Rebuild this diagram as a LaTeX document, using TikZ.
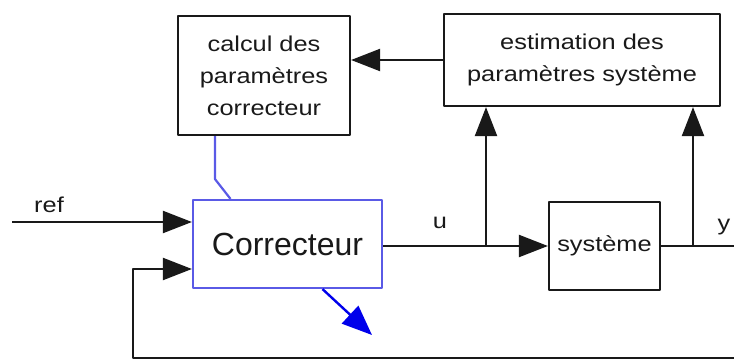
\documentclass[tikz,border=0pt]{standalone}
\usepackage{fontspec}
\setmainfont{Liberation Sans}
\newfontfamily\widefont[FakeStretch=1.18]{Liberation Sans}
\usetikzlibrary{arrows.meta}
\definecolor{boxblue}{RGB}{90,90,230}
\definecolor{arrowblue}{RGB}{0,0,235}
\definecolor{txtgray}{RGB}{25,25,25}
\begin{document}
\begin{tikzpicture}[x=1pt,y=-1pt,line join=round,>={Triangle[length=29pt,width=22pt]},
	bloc/.style={draw=black!90,line width=2.2pt,align=center,inner sep=0pt,text=txtgray,font=\widefont\fontsize{21.5}{32}\selectfont},
	fil/.style={draw=black!90,line width=2.2pt},
	lbl/.style={text=txtgray,inner sep=0pt,font=\widefont\fontsize{21.5}{25}\selectfont}]
	\useasboundingbox (0,0) rectangle (734,361);
	% blocs
	\node[bloc,minimum width=172pt,minimum height=119pt] (calc) at (264,75.5) {calcul des\\paramètres\\correcteur};
	\node[bloc,minimum width=276pt,minimum height=92pt] (estim) at (582,60) {estimation des\\paramètres système};
	\node[bloc,draw=boxblue,minimum width=189pt,minimum height=88pt,font=\fontsize{32}{36}\selectfont] (corr) at (287.5,244) {Correcteur};
	\node[bloc,minimum width=111pt,minimum height=88pt] (sys) at (604.5,246) {système};
	% points libres
	\coordinate (refin) at (12,222);
	\coordinate (fbin) at ([yshift=-25pt]corr.west);
	\coordinate (ju) at (486,246);
	\coordinate (jy) at (693,246);
	\coordinate (yout) at (734,246);
	\coordinate (fbr) at (734,358);
	\coordinate (fbl) at (133,358);
	\coordinate (adapt) at (372,335);
	% liaisons
	\draw[fil,->] (estim.west) -- (calc.east |- estim.west);
	\draw[fil,->] (refin) -- ([yshift=22pt]corr.west);
	\draw[fil,->] (fbr) -- (fbl) -- (fbl |- fbin) -- (fbin);
	\draw[fil,->] (corr.east |- sys.west) -- (sys.west);
	\draw[fil,->] (ju) -- (ju |- estim.south);
	\draw[fil] (sys.east) -- (yout);
	\draw[fil,->] (jy) -- (jy |- estim.south);
	\draw[boxblue,line width=2.2pt] ([xshift=-49pt]calc.south) -- ++(0,43) -- ([xshift=-57pt]corr.north);
	\draw[arrowblue,line width=2.4pt,-{Triangle[length=30pt,width=24pt]}] ([xshift=35pt]corr.south) -- (adapt);
	% etiquettes
	\node[lbl] (lref) at (49,205) {ref};
	\node[lbl] (lu) at (440,223) {u};
	\node[lbl] (ly) at (724,227) {y};
\end{tikzpicture}
\end{document}
